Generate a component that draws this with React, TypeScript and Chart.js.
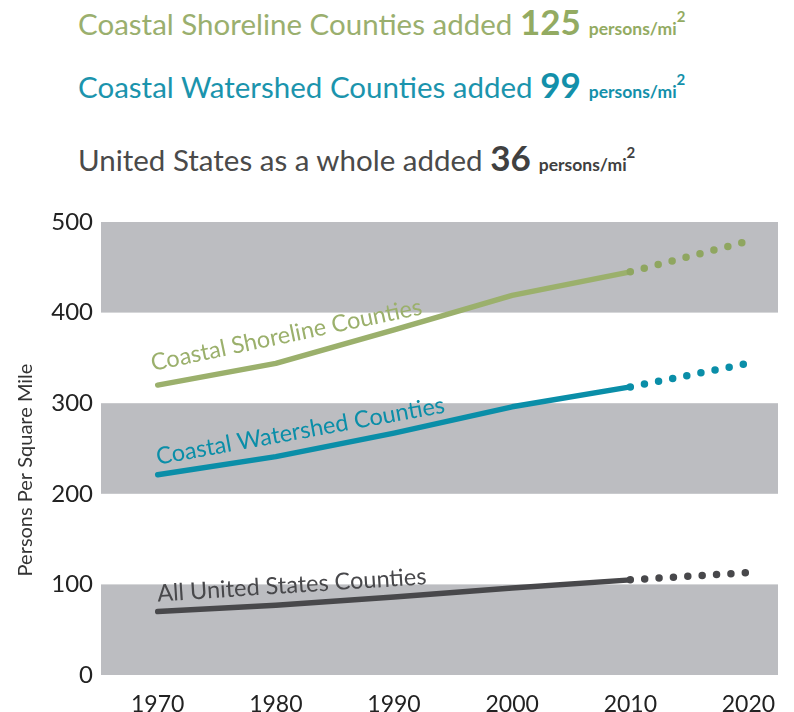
import React, { useEffect, useRef } from 'react';
import { Chart, registerables } from 'chart.js';

Chart.register(...registerables);

// ---- data ----
const years = [1970, 1980, 1990, 2000, 2010, 2020];
const xTickLabels = ['1970', '1980', '1990', '2000', '2010', '2020'];
const yTickValues = [0, 100, 200, 300, 400, 500];
const shoreline = [320, 344, 381, 419, 445, 479];
const watershed = [221, 241, 267, 296, 318, 344];
const allUS = [70, 77, 86, 96, 105, 113];
const seriesNames = ['Coastal Shoreline Counties', 'Coastal Watershed Counties', 'All United States Counties'];
const projectedFromIndex = 4; // segments after 2010 are projections
const bandRanges = [[0, 100], [200, 300], [400, 500]];
const headerTexts = ['Coastal Shoreline Counties added', 'Coastal Watershed Counties added', 'United States as a whole added'];
const headerValues = ['125', '99', '36'];
const yAxisTitle = 'Persons Per Square Mile';

// ---- styles ----
const FONT = 'Lato, "Open Sans", sans-serif';
const lineColors = ['#9BB06C', '#0A8EA8', '#48484B'];
const dotColors = ['#8FA660', '#0A8EA8', '#48484B'];
const labelStyles = [
  { dx: -5, dy: -14, angle: -11.9 },
  { dx: 0, dy: -10, angle: -10.3 },
  { dx: 0, dy: -10, angle: -3.7 },
];
const headerColors = ['#9AAF6E', '#1B94AD', '#4A4A4A'];
const headerNumColors = ['#93AB62', '#1390AA', '#404040'];
const headerTops = [1, 64, 137];

const bandsPlugin = {
  id: 'bands',
  beforeDatasetsDraw(chart: any) {
    const { ctx, chartArea, scales } = chart;
    const y = scales.y;
    ctx.save();
    ctx.fillStyle = '#BCBDC1';
    for (const [a, b] of bandRanges) {
      const y1 = y.getPixelForValue(b);
      const y2 = y.getPixelForValue(a);
      ctx.fillRect(chartArea.left, y1, chartArea.right - chartArea.left, y2 - y1);
    }
    ctx.restore();
  },
};

const labelsPlugin = {
  id: 'lineLabels',
  afterDatasetsDraw(chart: any) {
    const { ctx } = chart;
    ctx.save();
    chart.data.datasets.forEach((ds: any, i: number) => {
      const meta = chart.getDatasetMeta(i);
      const p = meta.data[0];
      const st = labelStyles[i];
      ctx.save();
      ctx.translate(p.x + st.dx, p.y + st.dy);
      ctx.rotate((st.angle * Math.PI) / 180);
      ctx.font = `23.5px ${FONT}`;
      ctx.fillStyle = lineColors[i];
      ctx.textAlign = 'left';
      ctx.textBaseline = 'alphabetic';
      ctx.fillText(seriesNames[i], 0, 0);
      ctx.restore();
    });
    // y axis title
    ctx.translate(26, 470);
    ctx.rotate(-Math.PI / 2);
    ctx.font = `20px ${FONT}`;
    ctx.fillStyle = '#333333';
    ctx.textAlign = 'center';
    ctx.textBaseline = 'middle';
    ctx.fillText(yAxisTitle, 0, 0);
    ctx.restore();
  },
};

function makeDataset(values: number[], i: number) {
  return {
    label: seriesNames[i],
    data: years.map((yr, k) => ({ x: yr, y: values[k] })),
    borderColor: lineColors[i],
    borderWidth: 5.5,
    borderCapStyle: 'round',
    borderJoinStyle: 'round',
    pointRadius: 0,
    pointHoverRadius: 0,
    tension: 0,
    fill: false,
    segment: {
      borderDash: (c: any) => (c.p0DataIndex >= projectedFromIndex ? [0, 14.4] : undefined),
      borderWidth: (c: any) => (c.p0DataIndex >= projectedFromIndex ? 7.5 : undefined),
      borderColor: (c: any) => (c.p0DataIndex >= projectedFromIndex ? dotColors[i] : undefined),
    },
  };
}

export default function App() {
  const ref = useRef<HTMLCanvasElement | null>(null);

  useEffect(() => {
    if (!ref.current) return;
    const chart = new Chart(ref.current, {
      type: 'line',
      data: {
        datasets: [makeDataset(shoreline, 0), makeDataset(watershed, 1), makeDataset(allUS, 2)] as any,
      },
      options: {
        animation: false,
        responsive: false,
        devicePixelRatio: 1,
        layout: { padding: { left: 0, top: 222, right: 16, bottom: 0 } },
        plugins: { legend: { display: false }, tooltip: { enabled: false } },
        scales: {
          x: {
            type: 'linear',
            min: 1965.2,
            max: 2022.5,
            afterBuildTicks: (s: any) => {
              s.ticks = years.map((v) => ({ value: v }));
            },
            afterFit: (s: any) => {
              s.height = 37;
              s.paddingLeft = 0;
              s.paddingRight = 0;
            },
            grid: { display: false, drawTicks: false },
            border: { display: false },
            ticks: {
              padding: 16,
              color: '#222222',
              font: { family: FONT, size: 23 },
              maxRotation: 0,
              autoSkip: false,
              callback: (v: any) => xTickLabels[years.indexOf(Number(v))] ?? '',
            },
          },
          y: {
            min: 0,
            max: 500,
            afterBuildTicks: (s: any) => {
              s.ticks = yTickValues.map((v) => ({ value: v }));
            },
            afterFit: (s: any) => {
              s.width = 101;
              s.paddingTop = 0;
              s.paddingBottom = 0;
            },
            grid: { display: false, drawTicks: false },
            border: { display: false },
            ticks: {
              padding: 8,
              color: '#222222',
              font: { family: FONT, size: 24 },
              callback: (v: any) => String(v),
            },
          },
        },
      },
      plugins: [bandsPlugin, labelsPlugin],
    } as any);
    return () => chart.destroy();
  }, []);

  return (
    <div style={{ position: 'absolute', left: 0, top: 0, width: 794, height: 712, fontFamily: FONT, overflow: 'hidden', background: '#fff' }}>
      {headerTexts.map((t, i) => (
        <div
          key={i}
          style={{
            position: 'absolute',
            left: 78,
            top: headerTops[i],
            whiteSpace: 'nowrap',
            color: headerColors[i],
            fontSize: 29.5,
            lineHeight: '40px',
          }}
        >
          {t + ' '}
          <span style={{ fontWeight: 700, fontSize: 35, color: headerNumColors[i] }}>{headerValues[i]}</span>
          <span style={{ fontWeight: 700, fontSize: 17.5, color: headerNumColors[i], marginLeft: 8 }}>
            {'persons/mi'}
            <sup style={{ fontSize: 15, verticalAlign: 'top', position: 'relative', top: -5 }}>2</sup>
          </span>
        </div>
      ))}
      <canvas ref={ref} width={794} height={712} style={{ position: 'absolute', left: 0, top: 0 }} />
    </div>
  );
}
